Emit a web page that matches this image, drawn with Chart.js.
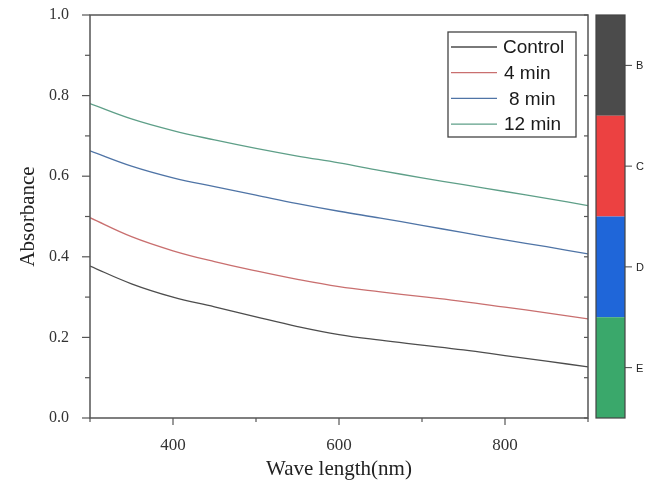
<!DOCTYPE html>
<html>
<head>
<meta charset="utf-8">
<script src="https://cdn.jsdelivr.net/npm/chart.js@4"></script>
<style>
  html, body { margin: 0; padding: 0; background: #fff; }
  #wrap { width: 659px; height: 486px; }
</style>
</head>
<body>
<div id="wrap"><canvas id="myChart" width="659" height="486"></canvas></div>
<script>
// data
const wavelength = [300, 350, 400, 450, 500, 550, 600, 650, 700, 750, 800, 850, 900];
const control = [0.377, 0.333, 0.300, 0.276, 0.251, 0.227, 0.207, 0.193, 0.181, 0.169, 0.155, 0.141, 0.127];
const min4 = [0.497, 0.450, 0.415, 0.388, 0.365, 0.344, 0.326, 0.313, 0.301, 0.289, 0.275, 0.261, 0.246];
const min8 = [0.663, 0.625, 0.596, 0.574, 0.553, 0.532, 0.513, 0.496, 0.478, 0.460, 0.442, 0.425, 0.407];
const min12 = [0.780, 0.742, 0.713, 0.690, 0.669, 0.650, 0.633, 0.614, 0.596, 0.579, 0.562, 0.545, 0.527];

const seriesNames = ["Control", "4 min", "8 min", "12 min"];
const seriesColors = ["#4d4d4d", "#c96f6f", "#4f74a6", "#5e9f88"];
const seriesData = [control, min4, min8, min12];

// colour bar on the right
const barLabels = ["B", "C", "D", "E"];
const barColors = ["#4b4b4b", "#ec4141", "#1f66d9", "#3aa86b"];

const xMajor = [400, 600, 800];
const yMajor = [0, 0.2, 0.4, 0.6, 0.8, 1.0];

function toPoints(arr) {
  return arr.map(function (v, i) { return { x: wavelength[i], y: v }; });
}

const datasets = seriesNames.map(function (name, i) {
  return {
    label: name,
    data: toPoints(seriesData[i]),
    borderColor: seriesColors[i],
    borderWidth: 1.3,
    pointRadius: 0,
    tension: 0.4,
    fill: false,
  };
});

// frame, ticks, legend box and colour bar
const decor = {
  id: "decor",
  afterDraw: function (chart) {
    const ctx = chart.ctx;
    const a = chart.chartArea;
    const xs = chart.scales.x;
    const ys = chart.scales.y;
    ctx.save();
    ctx.strokeStyle = "#555";
    ctx.lineWidth = 1.5;
    ctx.strokeRect(a.left, a.top, a.right - a.left, a.bottom - a.top);

    ctx.lineWidth = 1.2;
    // x ticks
    for (let v = 300; v <= 900; v += 100) {
      const px = xs.getPixelForValue(v);
      const len = xMajor.indexOf(v) >= 0 ? 7 : 4;
      ctx.beginPath();
      ctx.moveTo(px, a.bottom);
      ctx.lineTo(px, a.bottom + len);
      ctx.stroke();
    }
    // y ticks
    for (let k = 0; k <= 10; k++) {
      const v = k / 10;
      const py = ys.getPixelForValue(v);
      const len = k % 2 === 0 ? 8 : 5;
      ctx.beginPath();
      ctx.moveTo(a.left, py);
      ctx.lineTo(a.left - len, py);
      ctx.stroke();
      ctx.beginPath();
      ctx.moveTo(a.right, py);
      ctx.lineTo(a.right - 4, py);
      ctx.stroke();
    }

    // legend
    const lx = 448, ly = 32, lw = 128, lh = 105;
    ctx.fillStyle = "#fff";
    ctx.fillRect(lx, ly, lw, lh);
    ctx.strokeStyle = "#444";
    ctx.lineWidth = 1.3;
    ctx.strokeRect(lx, ly, lw, lh);
    ctx.font = "19px 'Liberation Sans', Arial, sans-serif";
    ctx.textBaseline = "middle";
    ctx.textAlign = "left";
    const textX = [55, 56, 61, 56];
    chart.data.datasets.forEach(function (ds, i) {
      const ry = 47 + i * 25.7;
      ctx.strokeStyle = ds.borderColor;
      ctx.lineWidth = 1.3;
      ctx.beginPath();
      ctx.moveTo(lx + 3, ry);
      ctx.lineTo(lx + 49, ry);
      ctx.stroke();
      ctx.fillStyle = "#1a1a1a";
      ctx.fillText(ds.label, lx + textX[i], ry + 1);
    });

    // colour bar, split along the y scale
    const bx = 596, bw = 29;
    const segs = barColors.length;
    for (let i = 0; i < segs; i++) {
      const top = ys.getPixelForValue(1 - i / segs);
      const bot = ys.getPixelForValue(1 - (i + 1) / segs);
      ctx.fillStyle = barColors[i];
      ctx.fillRect(bx, top, bw, bot - top);
      const mid = (top + bot) / 2;
      ctx.strokeStyle = "#444";
      ctx.lineWidth = 1;
      ctx.beginPath();
      ctx.moveTo(bx + bw, mid);
      ctx.lineTo(bx + bw + 7, mid);
      ctx.stroke();
      ctx.fillStyle = "#222";
      ctx.font = "11px 'Liberation Sans', Arial, sans-serif";
      ctx.fillText(barLabels[i], bx + bw + 11, mid + 1);
    }
    ctx.strokeStyle = "#444";
    ctx.lineWidth = 1.2;
    ctx.strokeRect(bx, ys.getPixelForValue(1), bw, ys.getPixelForValue(0) - ys.getPixelForValue(1));
    ctx.restore();
  },
};

const ctx = document.getElementById("myChart");
const myChart = new Chart(ctx, {
  type: "line",
  data: { datasets: datasets },
  options: {
    responsive: false,
    animation: false,
    layout: { padding: { top: 15, right: 71, left: 0, bottom: 0 } },
    plugins: { legend: { display: false }, tooltip: { enabled: false } },
    scales: {
      x: {
        type: "linear",
        min: 300,
        max: 900,
        afterFit: function (s) { s.height = 68; s.paddingLeft = 0; s.paddingRight = 0; },
        grid: { display: false },
        border: { display: false },
        ticks: {
          stepSize: 100,
          padding: 9,
          color: "#333",
          font: { family: "'Liberation Serif', 'Times New Roman', serif", size: 17 },
          callback: function (v) { return xMajor.indexOf(v) >= 0 ? String(v) : ""; },
        },
        title: {
          display: true,
          text: "Wave length(nm)",
          color: "#222",
          padding: { top: 4 },
          font: { family: "'Liberation Serif', 'Times New Roman', serif", size: 21 },
        },
      },
      y: {
        min: 0,
        max: 1,
        afterFit: function (s) { s.width = 90; s.paddingTop = 0; s.paddingBottom = 0; },
        grid: { display: false },
        border: { display: false },
        ticks: {
          stepSize: 0.1,
          padding: 13,
          color: "#333",
          font: { family: "'Liberation Serif', 'Times New Roman', serif", size: 16 },
          callback: function (v) {
            const r = Math.round(v * 10) / 10;
            return yMajor.some(function (m) { return Math.abs(m - r) < 1e-6; }) ? r.toFixed(1) : "";
          },
        },
        title: {
          display: true,
          text: "Absorbance",
          color: "#222",
          padding: { top: 16, bottom: 0 },
          font: { family: "'Liberation Serif', 'Times New Roman', serif", size: 21 },
        },
      },
    },
  },
  plugins: [decor],
});
</script>
</body>
</html>
